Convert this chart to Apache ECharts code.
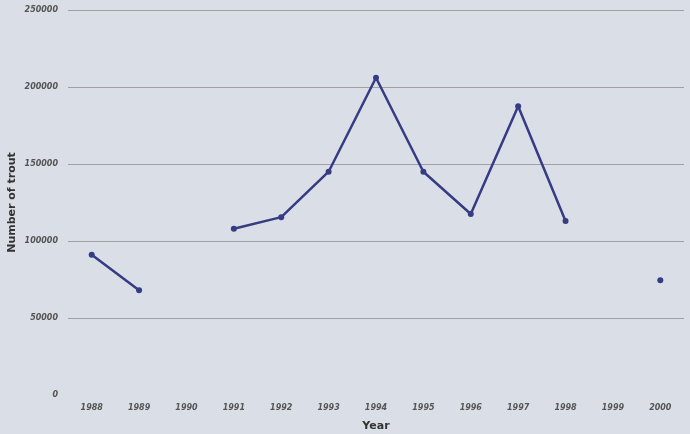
<!DOCTYPE html>
<html>
<head>
<meta charset="utf-8">
<script src="https://cdn.jsdelivr.net/npm/echarts@6/dist/echarts.min.js"></script>
<style>
html,body{margin:0;padding:0;background:#dadee6;}
#c{width:690px;height:434px;}
</style>
</head>
<body>
<div id="c"></div>
<script>
const years = ['1988','1989','1990','1991','1992','1993','1994','1995','1996','1997','1998','1999','2000'];
const trout = [91000, 68000, null, 108000, 115500, 145000, 206000, 145000, 117500, 187500, 113000, null, 74500];
const yTicks = [0, 50000, 100000, 150000, 200000, 250000];

const gridColor = '#a69ea5';
const chart = echarts.init(document.getElementById('c'));
chart.setOption({
  backgroundColor: '#dadee6',
  animation: false,
  grid: {left: 68, right: 6, top: 10, bottom: 39, outerBoundsMode: 'none', containLabel: false},
  xAxis: {
    type: 'category',
    data: years,
    boundaryGap: true,
    name: 'Year',
    nameLocation: 'middle',
    nameGap: 26,
    nameMoveOverlap: false,
    nameTextStyle: {fontFamily: 'DejaVu Sans', fontWeight: 'bold', fontSize: 11, color: '#333'},
    axisLine: {show: false},
    axisTick: {show: false},
    axisLabel: {fontFamily: 'DejaVu Sans', fontStyle: 'italic', fontWeight: 'bold', fontSize: 8, color: '#555', margin: 9}
  },
  yAxis: {
    type: 'value',
    min: yTicks[0],
    max: yTicks[yTicks.length-1],
    interval: 50000,
    name: 'Number of trout',
    nameLocation: 'middle',
    nameGap: 50,
    nameMoveOverlap: false,
    nameTextStyle: {fontFamily: 'DejaVu Sans', fontWeight: 'bold', fontSize: 11, color: '#333'},
    axisLine: {show: false},
    axisTick: {show: false},
    axisLabel: {fontFamily: 'DejaVu Sans', fontStyle: 'italic', fontWeight: 'bold', fontSize: 8, color: '#555', margin: 10,
      formatter: v => String(v)},
    splitLine: {show: true, lineStyle: {color: ['rgba(0,0,0,0)', gridColor, gridColor, gridColor, gridColor, gridColor], width: 1.2}}
  },
  series: [{
    type: 'line',
    data: trout,
    connectNulls: false,
    symbol: 'circle',
    symbolSize: 6,
    showSymbol: true,
    lineStyle: {color: '#363c84', width: 2.5},
    itemStyle: {color: '#363c84'}
  }]
});
</script>
</body>
</html>
